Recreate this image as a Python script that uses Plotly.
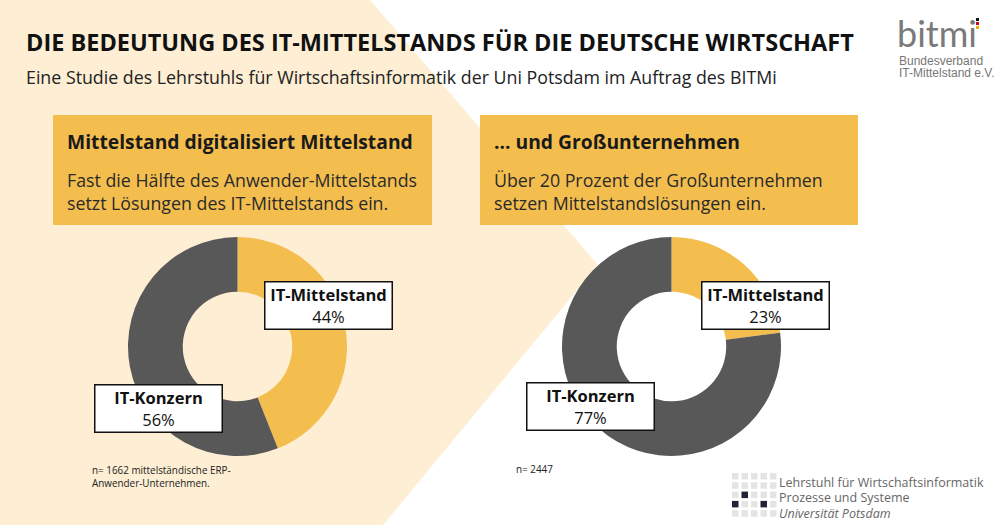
import plotly.graph_objects as go

# chart data
categories = ["IT-Mittelstand", "IT-Konzern"]
mittelstand_shares = [44, 56]      # Anwender-Mittelstand
grossunternehmen_shares = [23, 77]  # Großunternehmen

title_text = "DIE BEDEUTUNG DES IT-MITTELSTANDS FÜR DIE DEUTSCHE WIRTSCHAFT"
subtitle_text = "Eine Studie des Lehrstuhls für Wirtschaftsinformatik der Uni Potsdam im Auftrag des BITMi"
box_titles = ["Mittelstand digitalisiert Mittelstand", "... und Großunternehmen"]
box_texts = [
    "Fast die Hälfte des Anwender-Mittelstands<br>setzt Lösungen des IT-Mittelstands ein.",
    "Über 20 Prozent der Großunternehmen<br>setzen Mittelstandslösungen ein.",
]
footnotes = ["n= 1662 mittelständische ERP-<br>Anwender-Unternehmen.", "n= 2447"]

W, H = 1000, 525
YELLOW = "#F4BE4F"
DARK = "#585858"
CREAM = "#FDEED4"
FONT = "Open Sans"


def px(x):
    return x / W


def py(y):
    # pixel y from top -> paper y
    return 1 - y / H


fig = go.Figure()

# donuts
for shares, x0 in [(mittelstand_shares, 128), (grossunternehmen_shares, 562)]:
    fig.add_trace(go.Pie(
        labels=categories,
        values=shares,
        hole=0.5,
        sort=False,
        direction="clockwise",
        rotation=0,
        marker=dict(colors=[YELLOW, DARK]),
        textinfo="none",
        hoverinfo="label+percent",
        showlegend=False,
        domain=dict(x=[px(x0), px(x0 + 219)], y=[py(456), py(237)]),
    ))

shapes = []
# cream background polygon
poly = [(0, 0), (370, 0), (598, 265), (383, 525), (0, 525)]
path = "M " + " L ".join(f"{px(x):.4f},{py(y):.4f}" for x, y in poly) + " Z"
shapes.append(dict(type="path", xref="paper", yref="paper", path=path,
                   fillcolor=CREAM, line=dict(width=0), layer="below"))
# yellow text boxes
for x0, x1 in [(53, 432), (480, 858)]:
    shapes.append(dict(type="rect", xref="paper", yref="paper",
                       x0=px(x0), x1=px(x1), y0=py(225), y1=py(115),
                       fillcolor=YELLOW, line=dict(width=0), layer="below"))

# logo grid (Universität Potsdam)
dark_cells = {(2, 1), (3, 0), (3, 3)}
for r in range(5):
    for c in range(5):
        cx, cy = 732 + c * 9.5, 473 + r * 9.3
        shapes.append(dict(type="rect", xref="paper", yref="paper",
                           x0=px(cx), x1=px(cx + 6.5), y0=py(cy + 6.5), y1=py(cy),
                           fillcolor="#1F2537" if (r, c) in dark_cells else "#E4E4E4",
                           line=dict(width=0)))

annotations = []


def text(x, y, s, size, color="#1a1a1a", bold=False, xanchor="left", yanchor="middle", **kw):
    annotations.append(dict(
        x=px(x), y=py(y), xref="paper", yref="paper", showarrow=False,
        text=f"<b>{s}</b>" if bold else s, xanchor=xanchor, yanchor=yanchor,
        align="left", font=dict(family=kw.pop("family", FONT), size=size, color=color), **kw))


text(24, 42, title_text, 23.5, color="#111", bold=True)
text(24, 77, subtitle_text, 17.8, color="#222")

for x0, t, b in zip([65, 492], box_titles, box_texts):
    text(x0, 141, t, 19.3, color="#1a1a1a", bold=True)
    text(x0, 191, b, 17.8, color="#2a2a2a", yanchor="middle")

text(90, 476, footnotes[0], 9.9, color="#222")
text(514, 469, footnotes[1], 9.9, color="#222")

# data labels
label_pos = [
    [(328, 305), (158, 408)],
    [(765, 305), (590, 406)],
]
for shares, positions in zip([mittelstand_shares, grossunternehmen_shares], label_pos):
    for cat, val, (lx, ly) in zip(categories, shares, positions):
        annotations.append(dict(
            x=px(lx), y=py(ly), xref="paper", yref="paper", showarrow=False,
            xanchor="center", yanchor="middle",
            text=f"<b>{cat}</b><br>{val}%", align="center",
            font=dict(family=FONT, size=16.5, color="#111"),
            bgcolor="white", bordercolor="#111", borderwidth=1.5, borderpad=3,
            width=120, height=40))

# bitmi logo
text(895, 33, "bitmi", 36, color="#7a7a7a", family="Lato")
text(897, 61, "Bundesverband", 12, color="#777", family="Liberation Sans")
text(897, 73, "IT-Mittelstand e.V.", 12, color="#777", family="Liberation Sans")
for i, col in enumerate(["#111", "#D0021B", "#E9B300"]):
    shapes.append(dict(type="rect", xref="paper", yref="paper",
                       x0=px(976), x1=px(979), y0=py(21 + i * 4), y1=py(18 + i * 4),
                       fillcolor=col, line=dict(width=0)))

# Universität Potsdam logo text
text(777, 482, "Lehrstuhl für Wirtschaftsinformatik", 12.5, color="#666")
text(777, 497, "Prozesse und Systeme", 12.5, color="#666")
text(777, 513, "<i>Universität Potsdam</i>", 12.5, color="#666")

fig.update_layout(
    width=W, height=H,
    margin=dict(l=0, r=0, t=0, b=0),
    paper_bgcolor="white",
    plot_bgcolor="white",
    shapes=shapes,
    annotations=annotations,
    font=dict(family=FONT),
)

fig.write_html("out.html", config={"displayModeBar": False},
               post_script="document.body.style.margin='0';")
